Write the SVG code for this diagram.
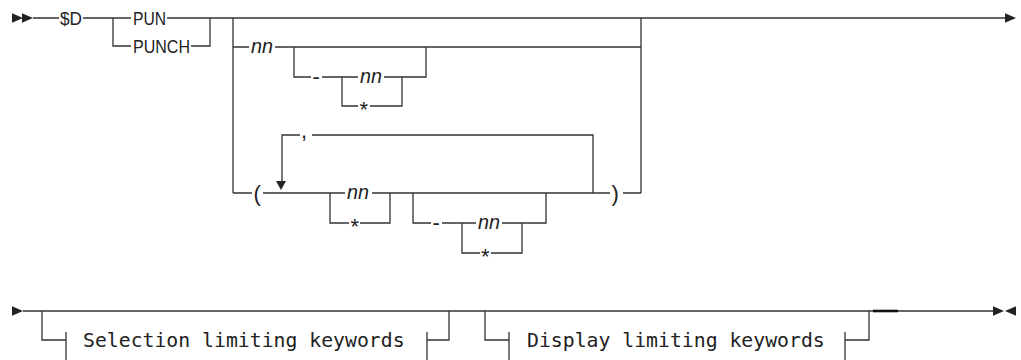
<svg xmlns="http://www.w3.org/2000/svg" width="1021" height="360" viewBox="0 0 1021 360">
<style>
.ln{stroke:#333;stroke-width:1.3;fill:none}
.kw{font-family:"Liberation Sans",Arial,sans-serif;font-size:18px;fill:#222}
.sym{font-family:"Liberation Sans",Arial,sans-serif;font-size:22px;fill:#222}
.var{font-family:"Liberation Sans",Arial,sans-serif;font-size:20px;font-style:italic;fill:#222}
.mono{font-family:"DejaVu Sans Mono","Liberation Mono",monospace;font-size:19.8px;fill:#222}
.ah{fill:#222}
</style>
<defs>
<polygon id="rt" points="0,-4.8 11,0 0,4.8"/>
<polygon id="lt" points="11,-4.8 0,0 11,4.8"/>
</defs>
<rect width="1021" height="360" fill="#fff"/>
<g id="connectors" class="ln">
<path d="M33 18H59M83 18H131M113 18V46H131M167 18H1005M191 46H210V18"/>
<path d="M233 18V193M641 18V193"/>
<path d="M233 47H249M275 47H641"/>
<path d="M294 47V77H311M322 77H358M384 77H426V47M342 77V106H358M370 106H402V77"/>
<path d="M300 135H282V181M312 135H593V193"/>
<path d="M233 193H252M263 193H345M372 193H610M623 193H641"/>
<path d="M330 193V223H349M360 223H390V193"/>
<path d="M413 193V223H431M442 223H476M502 223H546V193M462 223V253H480M491 253H522V223"/>
<path d="M23 311H993"/>
<path d="M42 311V340H66M66 332V360M427 332V360M427 340H449V311"/>
<path d="M485 311V340H509M509 332V360M845 332V360M845 340H869V311"/>
<path d="M873 311H898" style="stroke:#111;stroke-width:2.6"/>
</g>
<g id="markers" class="ah">
<use href="#rt" x="12" y="18"/>
<use href="#rt" x="22" y="18"/>
<use href="#rt" x="1005" y="18"/>
<polygon points="276,181 286,181 281,190"/>
<use href="#rt" x="12" y="311"/>
<use href="#rt" x="993" y="311"/>
<use href="#lt" x="1005" y="311"/>
</g>
<g id="n-sd"><text class="kw" x="60" y="24.5" textLength="22" lengthAdjust="spacingAndGlyphs">$D</text></g>
<g id="n-pun"><text class="kw" x="133" y="24.5" textLength="33" lengthAdjust="spacingAndGlyphs">PUN</text></g>
<g id="n-punch"><text class="kw" x="133" y="52.5" textLength="57" lengthAdjust="spacingAndGlyphs">PUNCH</text></g>
<g id="n-nn1"><text class="var" x="251" y="53" textLength="22" lengthAdjust="spacingAndGlyphs">nn</text></g>
<g id="n-dash1"><text class="sym" x="312.5" y="84">-</text></g>
<g id="n-nn2"><text class="var" x="360" y="83" textLength="22" lengthAdjust="spacingAndGlyphs">nn</text></g>
<g id="n-star1"><text class="sym" x="359.5" y="116.5">*</text></g>
<g id="n-comma"><text class="sym" x="301" y="138">,</text></g>
<g id="n-lparen"><text class="sym" x="253.5" y="200.5">(</text></g>
<g id="n-nn3"><text class="var" x="347" y="199" textLength="22" lengthAdjust="spacingAndGlyphs">nn</text></g>
<g id="n-star2"><text class="sym" x="350.5" y="233.5">*</text></g>
<g id="n-dash2"><text class="sym" x="432.5" y="230">-</text></g>
<g id="n-nn4"><text class="var" x="478" y="229" textLength="22" lengthAdjust="spacingAndGlyphs">nn</text></g>
<g id="n-star3"><text class="sym" x="481" y="263.5">*</text></g>
<g id="n-rparen"><text class="sym" x="611.5" y="200.5">)</text></g>
<g id="n-sel"><text class="mono" x="83" y="346.5">Selection limiting keywords</text></g>
<g id="n-disp"><text class="mono" x="527" y="346.5">Display limiting keywords</text></g>
</svg>
